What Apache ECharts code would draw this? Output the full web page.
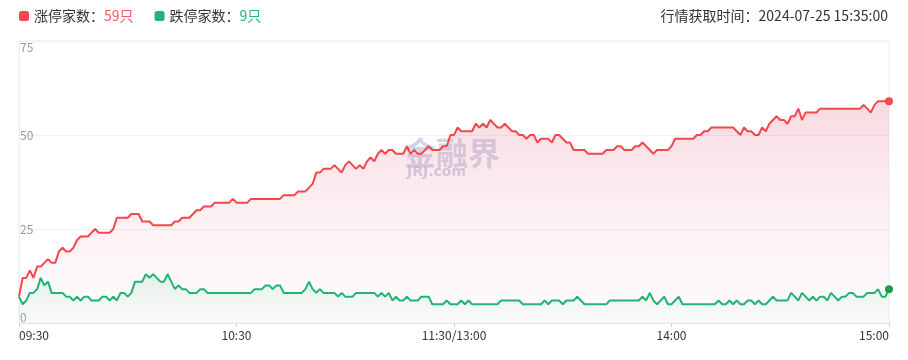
<!DOCTYPE html>
<html>
<head>
<meta charset="utf-8">
<script src="https://cdn.jsdelivr.net/npm/echarts@6/dist/echarts.min.js"></script>
<style>
html,body{margin:0;padding:0;background:#fff;}
#chart{width:908px;height:360px;}
</style>
</head>
<body>
<div id="chart"></div>
<script>
// ---- data ----
const upCount = [
  7,12,12,14,12,15,15,16,17,16,
  16,19,20,19,19,20,22,23,23,23,
  24,25,24,24,24,24,25,28,28,28,
  28,29,29,29,27,27,27,26,26,26,
  26,26,26,27,27,28,28,28,29,30,
  30,31,31,31,32,32,32,32,32,33,
  32,32,32,32,33,33,33,33,33,33,
  33,33,33,34,34,34,34,35,35,35,
  36,37,40,40,41,41,41,42,41,40,
  42,43,42,41,42,41,43,44,43,45,
  46,45,46,46,45,45,45,47,45,46,
  45,45,46,47,46,46,46,47,47,50,
  50,52,51,51,51,51,53,52,53,52,
  54,53,52,52,53,52,51,51,50,50,
  49,50,50,48,49,49,49,48,50,50,
  49,48,48,46,46,46,46,45,45,45,
  45,45,46,46,46,47,47,46,46,46,
  47,47,48,47,46,45,46,46,46,46,
  47,49,49,49,49,49,49,50,50,51,
  51,52,52,52,52,52,52,52,51,50,
  52,51,51,50,50,52,51,53,54,55,
  54,54,53,55,55,57,54,56,56,56,
  56,57,57,57,57,57,57,57,57,57,
  57,57,57,58,57,56,58,59,59,59,
  59
];
const downCount = [
  7,5,6,8,8,9,12,10,11,8,
  8,8,8,7,7,6,7,6,7,7,
  6,6,6,7,7,6,7,6,8,8,
  7,8,11,11,11,13,12,13,12,11,
  11,13,11,9,10,9,9,8,8,8,
  9,9,8,8,8,8,8,8,8,8,
  8,8,8,8,8,9,9,9,10,10,
  9,10,10,8,8,8,8,8,8,9,
  11,9,8,9,8,8,8,8,7,8,
  7,7,7,8,8,8,8,8,8,7,
  8,7,8,6,7,6,6,7,6,6,
  6,7,7,7,5,5,5,5,6,5,
  5,5,6,5,6,5,5,5,5,5,
  5,5,5,6,6,6,6,6,6,5,
  5,5,5,5,5,6,5,6,6,6,
  5,6,6,6,7,6,5,5,5,5,
  5,5,5,6,6,6,6,6,6,6,
  6,6,7,6,8,6,5,6,7,5,
  5,6,7,5,5,5,5,5,5,5,
  5,5,5,6,5,5,6,5,6,5,
  5,6,6,5,6,5,5,6,7,6,
  6,6,6,8,7,6,8,7,6,7,
  6,7,7,6,8,7,6,7,7,8,
  8,7,7,7,8,8,8,9,7,7,
  9
];
const tickTimes  = ['09:30','10:30','11:30','14:00','15:00'];
const tickLabels = ['09:30','10:30','11:30/13:00','14:00','15:00'];
const yTicks = [0, 25, 50, 75];
const seriesNames = ['涨停家数', '跌停家数'];
const fetchTime = '2024-07-25 15:35:00';

// minute categories: 09:30-11:30, 13:01-15:00
function fmt(m){ const h = Math.floor(m/60), mm = m%60; return (h<10?'0':'')+h+':'+(mm<10?'0':'')+mm; }
const times = [];
for (let m = 9*60+30; m <= 11*60+30; m++) times.push(fmt(m));
for (let m = 13*60+1; m <= 15*60; m++) times.push(fmt(m));

const RED = '#f4474c', GREEN = '#20b474';
function withEndDot(arr, color){
  return arr.map((v,i)=> i === arr.length-1
    ? {value:v, symbol:'circle', symbolSize:8, itemStyle:{color:color}}
    : v);
}
const lastUp = upCount[upCount.length-1];
const lastDown = downCount[downCount.length-1];

const chart = echarts.init(document.getElementById('chart'), null, {renderer:'canvas'});
const FONT = '"Noto Sans CJK SC", "Noto Sans", sans-serif';
chart.setOption({
  animation: false,
  textStyle: {fontFamily: FONT},
  title: {
    text: '行情获取时间：' + fetchTime,
    right: 20, top: 9, padding: 0,
    textStyle: {fontSize: 14, fontWeight: 'normal', color: '#333', fontFamily: FONT}
  },
  legend: {
    left: 19, top: 9, padding: 0,
    icon: 'roundRect', itemWidth: 10, itemHeight: 10, itemGap: 21,
    data: seriesNames,
    formatter: function(name){
      return name === seriesNames[0]
        ? '{n|' + name + '：}{r|' + lastUp + '只}'
        : '{n|' + name + '：}{g|' + lastDown + '只}';
    },
    textStyle: {
      fontSize: 14, color: '#333', fontFamily: FONT,
      rich: {
        n: {fontSize: 14, color: '#333', fontFamily: FONT},
        r: {fontSize: 14, color: '#f25a60', fontFamily: FONT},
        g: {fontSize: 14, color: '#27b47c', fontFamily: FONT}
      }
    }
  },
  graphic: [
    {type:'text', left: 404, top: 137, z: 0, silent: true,
     style:{text:'金融界', font:'bold 32px "Noto Sans CJK SC"', fill:'rgba(150,160,205,0.45)'}},
    {type:'text', left: 407, top: 165, z: 0, silent: true,
     style:{text:'JRJ.com', font:'bold 14px "DejaVu Sans"', fill:'rgba(150,160,205,0.5)'}}
  ],
  grid: {left: 19, right: 19, top: 41, bottom: 37, show: true, borderColor: '#eceef3', borderWidth: 1, backgroundColor: 'transparent'},
  xAxis: {
    type: 'category', data: times, boundaryGap: false,
    axisLine: {show: true, lineStyle: {color: '#e8e9ee'}},
    axisTick: {show: true, length: 4, lineStyle: {color: '#cfd3de'},
      interval: function(i, v){ return tickTimes.indexOf(v) >= 0; }},
    axisLabel: {
      color: '#333', fontSize: 12, margin: 6, fontFamily: FONT,
      interval: function(i, v){ return tickTimes.indexOf(v) >= 0; },
      formatter: function(v){ const k = tickTimes.indexOf(v); return k >= 0 ? tickLabels[k] : ''; },
      alignMinLabel: 'left', alignMaxLabel: 'right'
    },
    splitLine: {show: false}
  },
  yAxis: {
    type: 'value', min: yTicks[0], max: yTicks[yTicks.length-1], interval: 25,
    axisLine: {show: true, lineStyle: {color: '#eceef3'}},
    axisTick: {show: false},
    axisLabel: {inside: true, margin: 1, color: '#999', fontSize: 12, fontFamily: FONT,
      verticalAlignMinLabel: 'bottom', verticalAlignMaxLabel: 'top'},
    splitLine: {show: true, lineStyle: {color: '#f0f0f2'}}
  },
  series: [
    {
      name: seriesNames[0], type: 'line', data: withEndDot(upCount, RED),
      symbol: 'none', showSymbol: true, showAllSymbol: true,
      lineStyle: {color: RED, width: 2}, itemStyle: {color: RED},
      areaStyle: {color: new echarts.graphic.LinearGradient(0,0,0,1,[
        {offset:0, color:'rgba(232,128,152,0.42)'},
        {offset:1, color:'rgba(246,220,228,0.15)'}
      ])},
      z: 2
    },
    {
      name: seriesNames[1], type: 'line', data: withEndDot(downCount, '#1f9d45'),
      symbol: 'none', showSymbol: true, showAllSymbol: true,
      lineStyle: {color: GREEN, width: 2}, itemStyle: {color: GREEN},
      areaStyle: {color: new echarts.graphic.LinearGradient(0,0,0,1,[
        {offset:0, color:'rgba(32,180,116,0.16)'},
        {offset:1, color:'rgba(32,180,116,0.02)'}
      ])},
      z: 3
    }
  ]
});
</script>
</body>
</html>
